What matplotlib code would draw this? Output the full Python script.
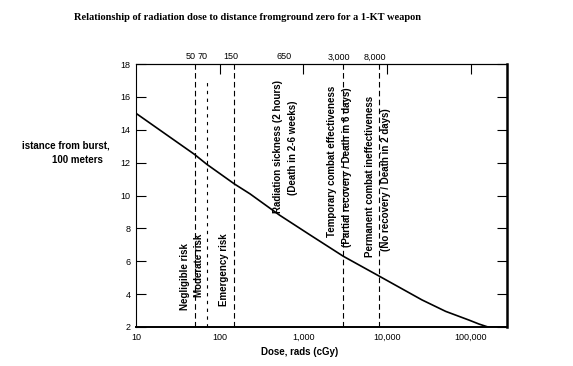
import matplotlib
matplotlib.use("Agg")
import matplotlib.pyplot as plt
import matplotlib.transforms as mtransforms

W, H = 573, 366

# curve: dose (rads) vs distance (100 m)
dose = [10, 50, 70, 150, 230, 520, 1200, 3000, 8000, 26000, 50000, 95000, 125000, 160000, 270000]
dist = [15.0, 12.5, 11.9, 10.7, 10.1, 8.8, 7.6, 6.3, 5.1, 3.65, 2.95, 2.42, 2.18, 2.0, 2.0]

# threshold doses marked by dashed lines
thresholds = [50, 150, 3000, 8000]
moderate = 70
top_values = [50, 70, 150, 650, 3000, 8000]
top_labels = ["50", "70", "150", "650", "3,000", "8,000"]

x_ticks = [10, 100, 1000, 10000, 100000]
x_ticklabels = ["10", "100", "1,000", "10,000", "100,000"]
y_ticks = [2, 4, 6, 8, 10, 12, 14, 16, 18]

# vertical annotations: (dose, distance at text start, text)
notes = [
    (38.5, 3.03, "Negligible risk"),
    (56.6, 3.83, "Moderate risk"),
    (112, 3.28, "Emergency risk"),
    (498, 8.94, "Radiation sickness (2 hours)"),
    (752, 10.03, "(Death in 2-6 weeks)"),
    (2200, 7.48, "Temporary combat effectiveness"),
    (3320, 6.87, "(Partial recovery / Death in 6 days)"),
    (6250, 6.26, "Permanent combat ineffectiveness"),
    (9700, 6.62, "(No recovery / Death in 2 days)"),
]

SANS = "Liberation Sans"

fig = plt.figure(figsize=(W / 100, H / 100), dpi=100)
fig.patch.set_facecolor("white")
ax = fig.add_axes([136 / W, (H - 327) / H, (507 - 136) / W, (327 - 64) / H])

ax.plot(dose, dist, color="black", lw=1.2, solid_capstyle="butt", zorder=3)

for d in thresholds:
    ax.axvline(d, color="black", lw=0.8, linestyle=(0, (5, 3)), zorder=2)
ax.vlines(moderate, 2, 17, color="black", lw=0.8, linestyle=(0, (3, 4)), zorder=2)

ax.set_xscale("log")
ax.set_xlim(10, 2.7e5)
ax.set_ylim(2, 18)

ax.set_xticks(x_ticks)
ax.set_xticklabels(x_ticklabels, fontsize=6.5, family=SANS)
ax.xaxis.set_minor_locator(matplotlib.ticker.FixedLocator([100, 10000]))
ax.xaxis.set_minor_formatter(matplotlib.ticker.NullFormatter())
ax.tick_params(axis="x", which="major", length=0, pad=4)
ax.tick_params(axis="x", which="minor", direction="in", length=6, width=1.0)

ax.set_yticks(y_ticks)
ax.set_yticklabels([str(v) for v in y_ticks], fontsize=6.5, family=SANS)
ax.tick_params(axis="y", direction="in", length=7, width=0.8, right=True, pad=4)

top = ax.secondary_xaxis("top")
top.set_xticks([100, 1000, 10000, 100000])
top.set_xticklabels([])
top.tick_params(direction="in", length=7, width=0.8)
top.xaxis.set_minor_locator(matplotlib.ticker.NullLocator())
top.spines["top"].set_linewidth(0.8)

ax.spines["left"].set_linewidth(0.8)
ax.spines["top"].set_linewidth(0.8)
ax.spines["right"].set_linewidth(1.8)
ax.spines["bottom"].set_linewidth(1.4)

trans = mtransforms.blended_transform_factory(ax.transData, ax.transAxes)
shift = mtransforms.ScaledTranslation(-4 / 100, 0, fig.dpi_scale_trans)
for v, lab in zip(top_values, top_labels):
    ax.text(v, 1.027, lab, transform=trans + shift, ha="center", va="center",
            fontsize=6.5, family=SANS)

for x, y, txt in notes:
    ax.text(x, y, txt, rotation=90, ha="center", va="bottom",
            fontsize=7, family=SANS, fontweight="bold", zorder=4)

fig.text(247 / W, 1 - 17 / H,
         "Relationship of radiation dose to distance fromground zero for a 1-KT weapon",
         ha="center", va="center", fontsize=7.5, family="Liberation Serif",
         fontweight="bold")
fig.text(110 / W, 1 - 146 / H, "istance from burst,", ha="right", va="center",
         fontsize=7, family=SANS, fontweight="bold")
fig.text(103 / W, 1 - 160 / H, "100 meters", ha="right", va="center",
         fontsize=7, family=SANS, fontweight="bold")
fig.text(300 / W, 1 - 352 / H, "Dose, rads (cGy)", ha="center", va="center",
         fontsize=7, family=SANS, fontweight="bold")

fig.savefig("out.png", dpi=100, facecolor="white")
